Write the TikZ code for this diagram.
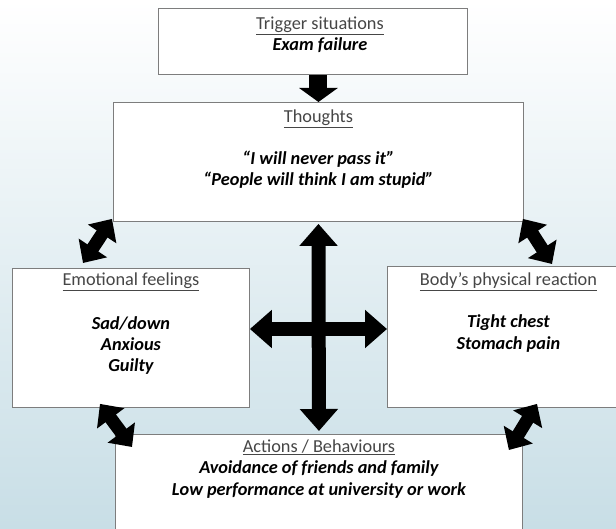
\documentclass[tikz,border=0pt]{standalone}
\usepackage{fontspec}
\setmainfont{Carlito}
\usetikzlibrary{positioning,arrows.meta}

\definecolor{bgtop}{RGB}{255,255,255}
\definecolor{bgbottom}{RGB}{200,222,230}
\definecolor{titlegray}{RGB}{70,70,70}
\definecolor{edgegray}{RGB}{125,125,125}

\tikzset{
    box/.style={draw=edgegray, line width=0.9pt, fill=white, anchor=north west, inner sep=0pt},
    boxtext/.style={align=center, inner sep=0pt, text=titlegray, font=\fontsize{18.3}{21.5}\selectfont},
    bigtip/.tip={Triangle[width=37pt,length=22pt]},
    smalltip/.tip={Triangle[width=33pt,length=18pt]},
    downtip/.tip={Triangle[width=38pt,length=14pt]},
    crossarrow/.style={line width=14pt, bigtip-bigtip},
    cornerarrow/.style={line width=13pt, smalltip-smalltip},
    downarrow/.style={line width=18pt, -downtip}
}

\begin{document}
\begin{tikzpicture}[x=1pt,y=1pt]
\useasboundingbox (0,0) rectangle (616,-529);
\clip (0,0) rectangle (616,-529);
\shade[top color=bgtop, bottom color=bgbottom] (0,0) rectangle (616,-529);

% boxes
\node[box, minimum width=309pt, minimum height=66pt] (trig) at (158,-8) {};
\node[box, minimum width=410pt, minimum height=119pt] (thoughts) at (113,-102) {};
\node[box, minimum width=237pt, minimum height=139pt] (emotion) at (12,-268) {};
\node[box, minimum width=242pt, minimum height=141pt] (body) at (387,-266) {};
\node[box, minimum width=407pt, minimum height=130pt] (action) at (115,-434) {};

% texts (base = last line)
\node[boxtext, below=43pt of trig.north, anchor=base, xshift=7pt] (trigtext)
    {\underline{Trigger situations}\\{\color{black}\bfseries\itshape Exam failure}};
\node[boxtext, below=84pt of thoughts.north, anchor=base] (thoughtstext)
    {\underline{Thoughts}\\[20.5pt]{\color{black}\bfseries\itshape “I will never pass it”}\\
     {\color{black}\bfseries\itshape “People will think I am stupid”}};
\node[boxtext, below=104pt of emotion.north, anchor=base] (emotiontext)
    {\underline{Emotional feelings}\\[21.5pt]{\color{black}\bfseries\itshape Sad/down}\\
     {\color{black}\bfseries\itshape Anxious}\\{\color{black}\bfseries\itshape Guilty}};
\node[boxtext, below=83pt of body.north, anchor=base] (bodytext)
    {\underline{Body’s physical reaction}\\[20.5pt]{\color{black}\bfseries\itshape Tight chest}\\
     {\color{black}\bfseries\itshape Stomach pain}};
\node[boxtext, below=61pt of action.north, anchor=base] (actiontext)
    {\underline{Actions / Behaviours}\\{\color{black}\bfseries\itshape Avoidance of friends and family}\\
     {\color{black}\bfseries\itshape Low performance at university or work}};

% arrows
\coordinate (hub) at (317,-329);
\draw[downarrow] (trig.south -| thoughts.north) -- (thoughts.north);
\draw[crossarrow, shorten <=2pt, shorten >=3pt] (thoughts.south) -- (action.north);
\draw[crossarrow] (hub -| emotion.east) -- (hub -| body.west);
\draw[cornerarrow] ([xshift=-1pt,yshift=3pt]thoughts.south west) -- ([xshift=71pt,yshift=5pt]emotion.north west);
\draw[cornerarrow] ([xshift=-1pt,yshift=3pt]thoughts.south east) -- ([xshift=165pt,yshift=2pt]body.north west);
\draw[cornerarrow] ([xshift=88pt,yshift=4pt]emotion.south west) -- ([xshift=17pt,yshift=-13pt]action.north west);
\draw[cornerarrow] ([xshift=150pt,yshift=4pt]body.south west) -- ([xshift=-14pt,yshift=-16pt]action.north east);
\end{tikzpicture}
\end{document}
